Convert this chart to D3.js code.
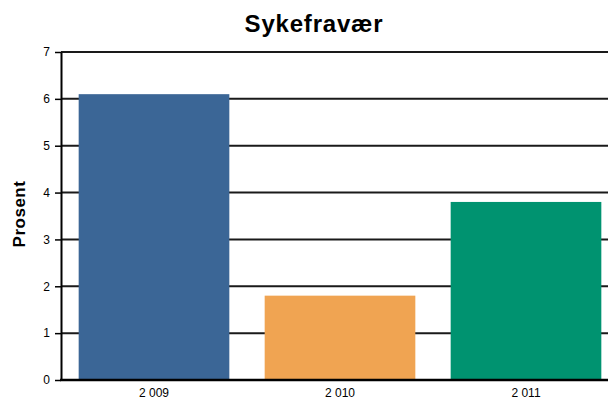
<!DOCTYPE html>
<html>
<head>
<meta charset="utf-8">
<script src="https://cdn.jsdelivr.net/npm/d3@7"></script>
<style>
  body { margin: 0; background: #fff; }
  text { font-family: "Liberation Sans", Arial, sans-serif; }
</style>
</head>
<body>
<div id="wrapper"></div>
<script>
// data
const years = ["2 009", "2 010", "2 011"];
const values = [6.1, 1.8, 3.8];
const colors = ["#3b6696", "#f0a452", "#009370"];
const yTicks = [0, 1, 2, 3, 4, 5, 6, 7];

let dimensions = {
    width: 608,
    height: 400,
    margin: { top: 52, right: 0, bottom: 20, left: 61 },
}
dimensions.boundedHeight = dimensions.height - dimensions.margin.top - dimensions.margin.bottom;

const wrapper = d3.select("#wrapper")
    .append("svg")
    .attr("width", dimensions.width)
    .attr("height", dimensions.height);

const bounds = wrapper.append("g")
    .attr("transform", `translate(${dimensions.margin.left},${dimensions.margin.top})`);

// scales (band range runs past the right edge, like the original crop)
const xScale = d3.scaleBand()
    .domain(years)
    .range([0, 558])
    .paddingInner(0.19)
    .paddingOuter(0.095);

const yScale = d3.scaleLinear()
    .domain([0, 7])
    .range([dimensions.boundedHeight, 0]);

// gridlines
bounds.append("g")
    .selectAll("line")
    .data(yTicks.slice(1))
    .join("line")
    .attr("x1", 0)
    .attr("x2", dimensions.width)
    .attr("y1", d => yScale(d))
    .attr("y2", d => yScale(d))
    .attr("stroke", "#1a1a1a")
    .attr("stroke-width", 2);

// bars
bounds.append("g")
    .selectAll("rect")
    .data(values)
    .join("rect")
    .attr("x", (d, i) => xScale(years[i]))
    .attr("width", xScale.bandwidth())
    .attr("y", d => yScale(d))
    .attr("height", d => yScale(0) - yScale(d))
    .attr("fill", (d, i) => colors[i]);

// y axis
const yAxis = bounds.append("g")
    .call(d3.axisLeft(yScale).tickValues(yTicks).tickFormat(d3.format("d"))
        .tickSize(6).tickPadding(5).tickSizeOuter(0));
yAxis.select(".domain").attr("stroke", "#000").attr("stroke-width", 2);
yAxis.selectAll(".tick line").attr("stroke", "#000").attr("stroke-width", 1.5);
yAxis.selectAll("text").attr("font-size", 12).attr("fill", "#000")
    .attr("font-family", "'Liberation Sans', Arial, sans-serif");

// baseline
bounds.append("line")
    .attr("x1", -1)
    .attr("x2", dimensions.width)
    .attr("y1", yScale(0))
    .attr("y2", yScale(0))
    .attr("stroke", "#000")
    .attr("stroke-width", 2.5);

// x labels
bounds.append("g")
    .selectAll("text")
    .data(years)
    .join("text")
    .attr("x", d => xScale(d) + xScale.bandwidth() / 2)
    .attr("y", yScale(0) + 17)
    .attr("text-anchor", "middle")
    .attr("font-size", 12)
    .text(d => d);

// title
wrapper.append("text")
    .attr("x", 314)
    .attr("y", 32)
    .attr("text-anchor", "middle")
    .attr("font-size", 24)
    .attr("font-weight", "bold")
    .attr("letter-spacing", 0.8)
    .text("Sykefravær");

// y label
wrapper.append("text")
    .attr("transform", "translate(25,214) rotate(-90)")
    .attr("text-anchor", "middle")
    .attr("font-size", 17)
    .attr("font-weight", "bold")
    .attr("letter-spacing", 0.5)
    .text("Prosent");
</script>
</body>
</html>
